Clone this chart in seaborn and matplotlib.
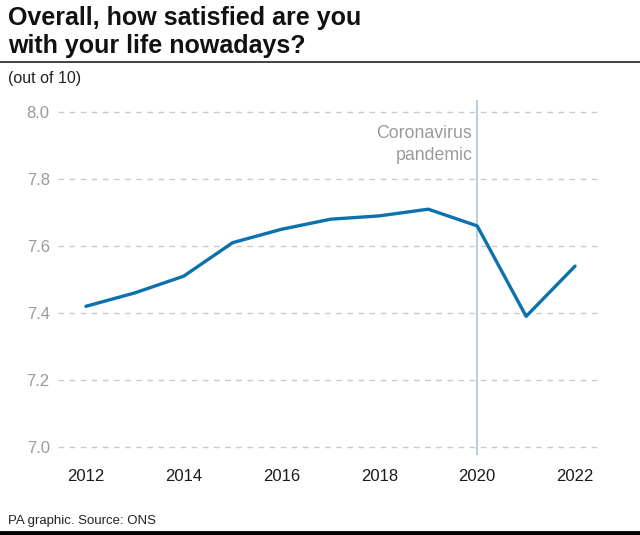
import seaborn as sns
import pandas as pd
import matplotlib.pyplot as plt
from matplotlib.lines import Line2D

# data
years = [2012, 2013, 2014, 2015, 2016, 2017, 2018, 2019, 2020, 2021, 2022]
satisfaction = [7.42, 7.46, 7.51, 7.61, 7.65, 7.68, 7.69, 7.71, 7.66, 7.39, 7.54]
y_ticks = [7.0, 7.2, 7.4, 7.6, 7.8, 8.0]
x_ticks = [2012, 2014, 2016, 2018, 2020, 2022]
pandemic_year = 2020

df = pd.DataFrame({'year': years, 'score': satisfaction})

sns.set_style('white')
plt.rcParams['font.family'] = ['Liberation Sans', 'DejaVu Sans']

fig = plt.figure(figsize=(6.4, 5.35), dpi=100)
ax = fig.add_axes([58 / 640, 80 / 535, 542 / 640, 355 / 535])

# dashed grid
for t in y_ticks:
	ax.axhline(t, color='#c9c9c9', lw=1, ls=(0, (4, 4)), zorder=0)

ax.axvline(pandemic_year, color='#b9cfdf', lw=1.5, zorder=1)

sns.lineplot(data=df, x='year', y='score', ax=ax, color='#0c72ad', lw=2.4, zorder=3)

ax.set_xlim(2011.43, 2022.51)
ax.set_ylim(6.976, 8.036)
ax.set_xticks(x_ticks)
ax.set_xticklabels([str(x) for x in x_ticks], fontsize=12, color='#1a1a1a')
ax.set_yticks(y_ticks)
ax.set_yticklabels([f'{t:.1f}' for t in y_ticks], fontsize=12, color='#9a9a9a')
ax.tick_params(axis='both', length=0)
ax.tick_params(axis='x', pad=10)
ax.tick_params(axis='y', pad=6)
ax.set_xlabel('')
ax.set_ylabel('')
sns.despine(ax=ax, left=True, bottom=True)

ax.text(pandemic_year - 0.1, 7.962, 'Coronavirus\npandemic', ha='right', va='top',
		fontsize=12.8, color='#9a9a9a', linespacing=1.4)

# titles and footer
fig.text(8 / 640, 1 - 6 / 535, 'Overall, how satisfied are you\nwith your life nowadays?',
		 ha='left', va='top', fontsize=18, fontweight='bold', color='#111111', linespacing=1.22)
fig.add_artist(Line2D([0, 1], [1 - 62 / 535, 1 - 62 / 535], transform=fig.transFigure,
					  color='#222222', lw=1.2))
fig.text(8 / 640, 1 - 78 / 535, '(out of 10)', ha='left', va='center', fontsize=11.5, color='#222222')
fig.text(8 / 640, 1 - 521 / 535, 'PA graphic. Source: ONS', ha='left', va='center',
		 fontsize=9.5, color='#222222')
fig.add_artist(Line2D([0, 1], [2 / 535, 2 / 535], transform=fig.transFigure,
					  color='#000000', lw=3.5))

plt.savefig('out.png', dpi=100)
